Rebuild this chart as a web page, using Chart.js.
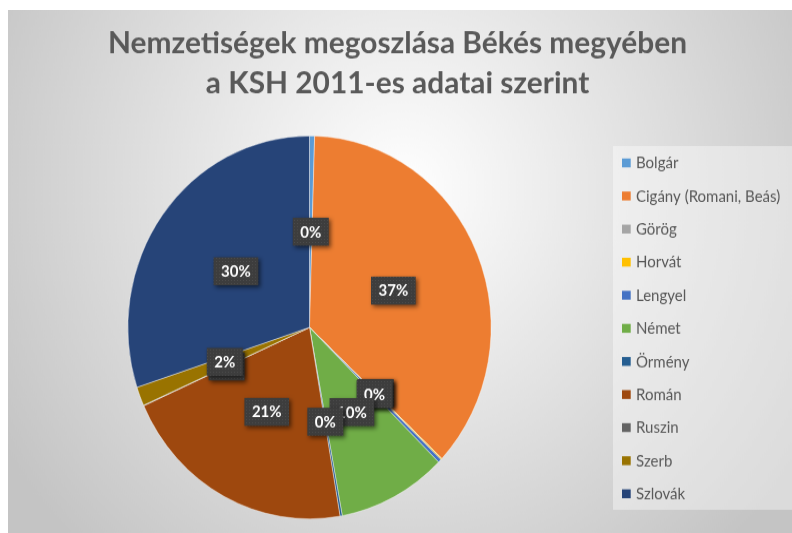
<!DOCTYPE html>
<html>
<head>
<meta charset="utf-8">
<script src="https://cdn.jsdelivr.net/npm/chart.js@4"></script>
<style>
  html, body { margin: 0; padding: 0; background: #ffffff; }
  #frame {
    position: absolute; left: 8px; top: 10px;
    width: 784px; height: 496px;
    transform: scaleY(1.0544); transform-origin: 0 0;
  }
</style>
</head>
<body>
<div id="frame"><canvas id="pie" width="784" height="496"></canvas></div>
<script>
// --- data (share of population, %) ---
const nationalities = ['Bolgár', 'Cigány (Romani, Beás)', 'Görög', 'Horvát', 'Lengyel', 'Német',
    'Örmény', 'Román', 'Ruszin', 'Szerb', 'Szlovák'];
const shares = [0.45, 36.6, 0.02, 0.1, 0.3, 9.7, 0.2, 21.0, 0.05, 1.6, 30.1];
const sliceColors = ['#5B9BD5', '#ED7D31', '#A5A5A5', '#FFC000', '#4472C4', '#70AD47',
    '#255E91', '#9E480E', '#636363', '#997300', '#264478'];
const titleLines = ['Nemzetiségek megoszlása Békés megyében', 'a KSH 2011-es adatai szerint'];

const TEXT = '#595959';

// dotted fill used by Excel's dark label boxes
function boxPattern(ctx) {
    const c = document.createElement('canvas');
    c.width = 3; c.height = 3;
    const p = c.getContext('2d');
    p.fillStyle = '#3d3d3d';
    p.fillRect(0, 0, 3, 3);
    p.fillStyle = '#4b4b4b';
    p.fillRect(1, 1, 1, 1);
    return ctx.createPattern(c, 'repeat');
}

const backgroundPlugin = {
    id: 'bg',
    beforeDraw(chart) {
        const {ctx, width, height} = chart;
        const g = ctx.createRadialGradient(395, 170, 0, 395, 170, 470);
        g.addColorStop(0, '#ffffff');
        g.addColorStop(1, '#c4c4c4');
        ctx.save();
        ctx.fillStyle = g;
        ctx.fillRect(0, 0, width, height);
        ctx.restore();
    }
};

const titleLegendPlugin = {
    id: 'titleLegend',
    beforeDatasetsDraw(chart) {
        const ctx = chart.ctx;
        ctx.save();
        // title, widened a little to match the narrow original face
        ctx.fillStyle = TEXT;
        ctx.font = 'bold 28px Lato';
        ctx.textAlign = 'center';
        ctx.textBaseline = 'alphabetic';
        const sx = 579 / ctx.measureText(titleLines[0]).width;
        ctx.save();
        ctx.translate(389.5, 0);
        ctx.scale(sx, 1);
        ctx.fillText(titleLines[0], 0, 40.5);
        ctx.fillText(titleLines[1], 0, 78.5);
        ctx.restore();

        // legend box
        ctx.fillStyle = 'rgba(255,255,255,0.4)';
        ctx.fillRect(605, 129, 179, 345);
        ctx.font = '15px Lato';
        ctx.textAlign = 'left';
        ctx.textBaseline = 'middle';
        nationalities.forEach((name, i) => {
            const y = 145 + i * 31.38;
            ctx.fillStyle = sliceColors[i];
            ctx.fillRect(614, y - 4.2, 8.7, 8.4);
            ctx.fillStyle = TEXT;
            ctx.fillText(name, 628, y + 0.5);
        });
        ctx.restore();
    }
};

const labelPlugin = {
    id: 'pctLabels',
    afterDatasetsDraw(chart) {
        const ctx = chart.ctx;
        const meta = chart.getDatasetMeta(0);
        const total = shares.reduce((a, b) => a + b, 0);
        const fill = boxPattern(ctx);
        ctx.save();
        ctx.font = 'bold 15px Lato';
        ctx.textAlign = 'center';
        ctx.textBaseline = 'middle';
        meta.data.forEach((arc, i) => {
            const {x, y, startAngle, endAngle, outerRadius} = arc.getProps(['x', 'y', 'startAngle', 'endAngle', 'outerRadius'], true);
            const mid = (startAngle + endAngle) / 2;
            const lx = x + Math.cos(mid) * outerRadius * 0.5;
            const ly = y + Math.sin(mid) * outerRadius * 0.5;
            const txt = Math.round(shares[i] / total * 100) + '%';
            const w = ctx.measureText(txt).width + 15;
            const h = 26.5;
            ctx.shadowColor = 'rgba(0,0,0,0.55)';
            ctx.shadowBlur = 4;
            ctx.shadowOffsetX = 2;
            ctx.shadowOffsetY = 2;
            ctx.fillStyle = fill;
            ctx.fillRect(lx - w / 2, ly - h / 2, w, h);
            ctx.shadowColor = 'transparent';
            ctx.fillStyle = '#ffffff';
            ctx.fillText(txt, lx, ly + 0.5);
        });
        ctx.restore();
    }
};

new Chart(document.getElementById('pie'), {
    type: 'pie',
    data: {
        labels: nationalities,
        datasets: [{
            data: shares,
            backgroundColor: sliceColors,
            borderColor: 'rgba(255,255,255,0.55)',
            borderWidth: 0.75
        }]
    },
    options: {
        responsive: false,
        animation: false,
        devicePixelRatio: 1,
        layout: { padding: { left: 119.5, right: 300.5, top: 119, bottom: 13 } },
        plugins: {
            legend: { display: false },
            title: { display: false },
            tooltip: { enabled: false }
        }
    },
    plugins: [backgroundPlugin, titleLegendPlugin, labelPlugin]
});
</script>
</body>
</html>
